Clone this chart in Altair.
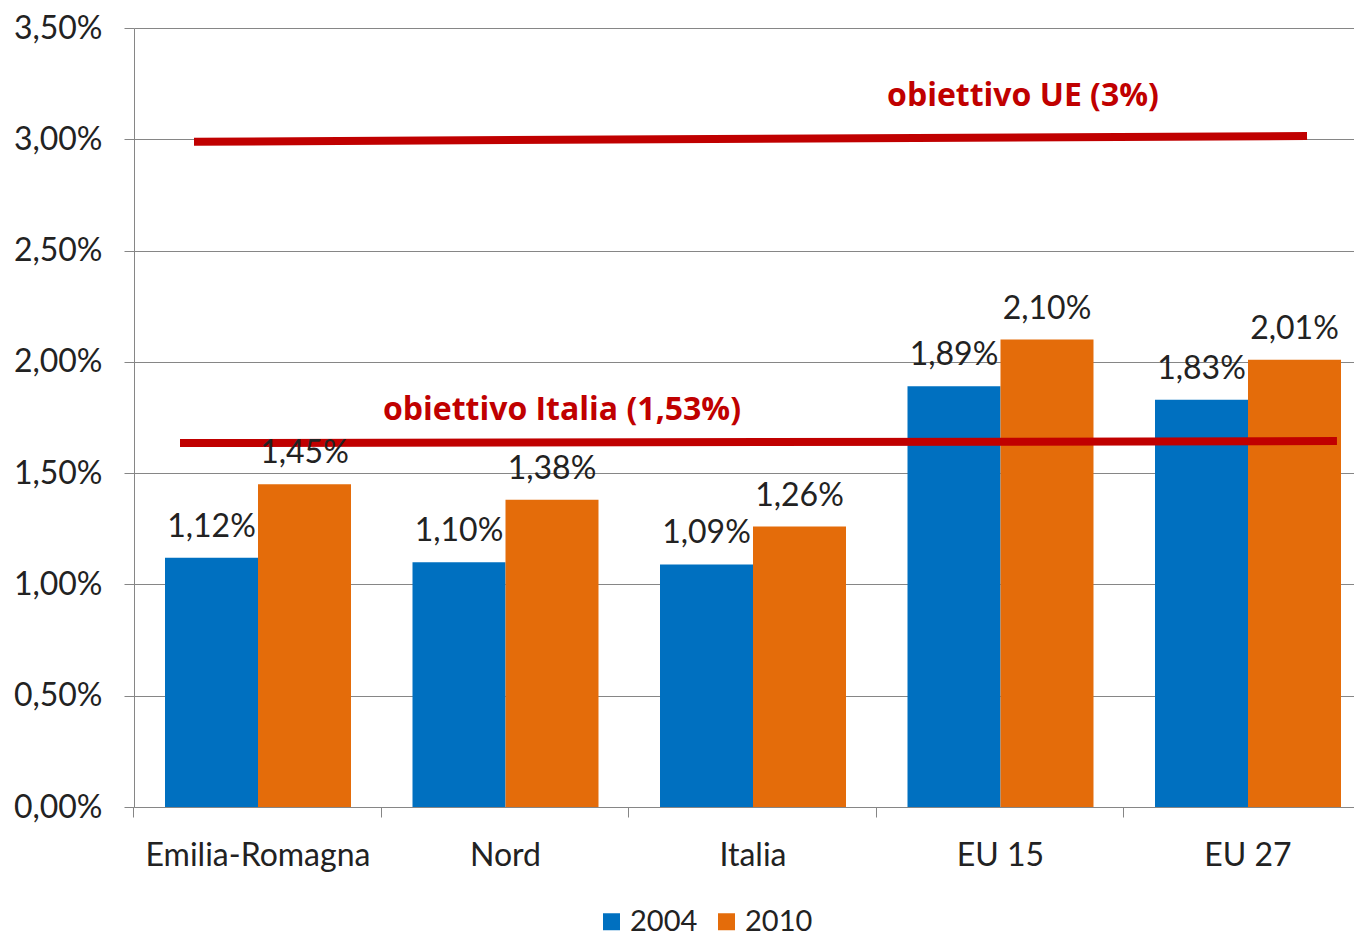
import altair as alt
import pandas as pd

categories = ["Emilia-Romagna", "Nord", "Italia", "EU 15", "EU 27"]
years = ["2004", "2010"]
values_2004 = [1.12, 1.10, 1.09, 1.89, 1.83]
values_2010 = [1.45, 1.38, 1.26, 2.10, 2.01]
colors = ["#0070C0", "#E46C0A"]

# target lines (drawn slightly slanted, as in the original)
target_labels = ["obiettivo UE (3%)", "obiettivo Italia (1,53%)"]
target_y_start = [2.989, 1.635]
target_y_end = [3.015, 1.644]
target_x_start = [0.0492, 0.0377]
target_x_end = [0.9615, 0.986]
target_label_x = [0.7287, 0.3508]
target_label_y = [3.15, 1.739]

rows = []
for c, v4, v10 in zip(categories, values_2004, values_2010):
    rows.append({"category": c, "year": "2004", "value": v4})
    rows.append({"category": c, "year": "2010", "value": v10})
df = pd.DataFrame(rows)

tgt = pd.DataFrame({
    "label": target_labels,
    "ys": target_y_start, "ye": target_y_end,
    "xs": target_x_start, "xe": target_x_end,
    "lx": target_label_x, "ly": target_label_y,
})

FONT = "Lato"
TXT = "#222222"
GRID = "#868686"
W, H = 1220, 779
FS = 32

xscale = alt.Scale(paddingInner=0.2485, paddingOuter=0.0889, align=0.7045)
x_enc = alt.X(
    "category:N", sort=categories, scale=xscale,
    axis=alt.Axis(title=None, labelAngle=0, bandPosition=-0.1667, tickSize=10,
                  labelPadding=23, labelFont=FONT, labelFontSize=FS, labelColor=TXT,
                  labelLimit=0, domainColor=GRID, tickColor=GRID, grid=False),
)
xo_enc = alt.XOffset("year:N", sort=years, scale=alt.Scale(paddingInner=0, paddingOuter=0))
yscale = alt.Scale(domain=[0, 3.5], nice=False)
yaxis = alt.Axis(title=None, values=[0, 0.5, 1, 1.5, 2, 2.5, 3, 3.5], tickSize=10,
                 labelPadding=22, labelFont=FONT, labelFontSize=FS, labelColor=TXT,
                 labelExpr="replace(format(datum.value, '.2f'), '.', ',') + '%'",
                 domainColor=GRID, tickColor=GRID, gridColor=GRID, gridWidth=1)

base = alt.Chart(df).transform_calculate(
    txt="replace(format(datum.value, '.2f'), '.', ',') + '%'"
)

bars = base.mark_bar().encode(
    x=x_enc, xOffset=xo_enc,
    y=alt.Y("value:Q", scale=yscale, axis=yaxis),
    color=alt.Color("year:N", sort=years,
                    scale=alt.Scale(domain=years, range=colors),
                    legend=alt.Legend(title=None, orient="none", direction="horizontal",
                                      legendX=463, legendY=879, padding=0,
                                      symbolType="square", symbolSize=289,
                                      symbolStrokeWidth=0, labelFont=FONT,
                                      labelFontSize=29, labelColor=TXT,
                                      labelOffset=4, columnPadding=14)),
)

labels = base.mark_text(font=FONT, fontSize=FS, color=TXT, dy=-21,
                        baseline="alphabetic", align="center").encode(
    x=alt.X("category:N", sort=categories, scale=xscale, axis=None),
    xOffset=xo_enc,
    y=alt.Y("value:Q", scale=yscale, axis=yaxis), text="txt:N"
)

xq = alt.Scale(domain=[0, 1], nice=False, zero=False)
rules = alt.Chart(tgt).mark_rule(color="#C00000", strokeWidth=8, strokeCap="butt").encode(
    x=alt.X("xs:Q", scale=xq, axis=None), x2="xe:Q",
    y=alt.Y("ys:Q", scale=yscale, axis=yaxis), y2="ye:Q",
)
rule_text = alt.Chart(tgt).mark_text(font="Open Sans", fontSize=32, fontWeight="bold",
                                     color="#C00000", align="center",
                                     baseline="alphabetic").encode(
    x=alt.X("lx:Q", scale=xq, axis=None),
    y=alt.Y("ly:Q", scale=yscale, axis=yaxis),
    text="label:N",
)

chart = alt.layer(bars, rules, labels, rule_text).resolve_scale(x="independent").properties(
    width=W, height=H,
    autosize=alt.AutoSizeParams(type="none"),
    padding={"left": 126, "top": 20, "right": 0, "bottom": 131},
).configure_view(stroke=None)

chart.save("out.html", embed_options={"renderer": "svg", "actions": False})
